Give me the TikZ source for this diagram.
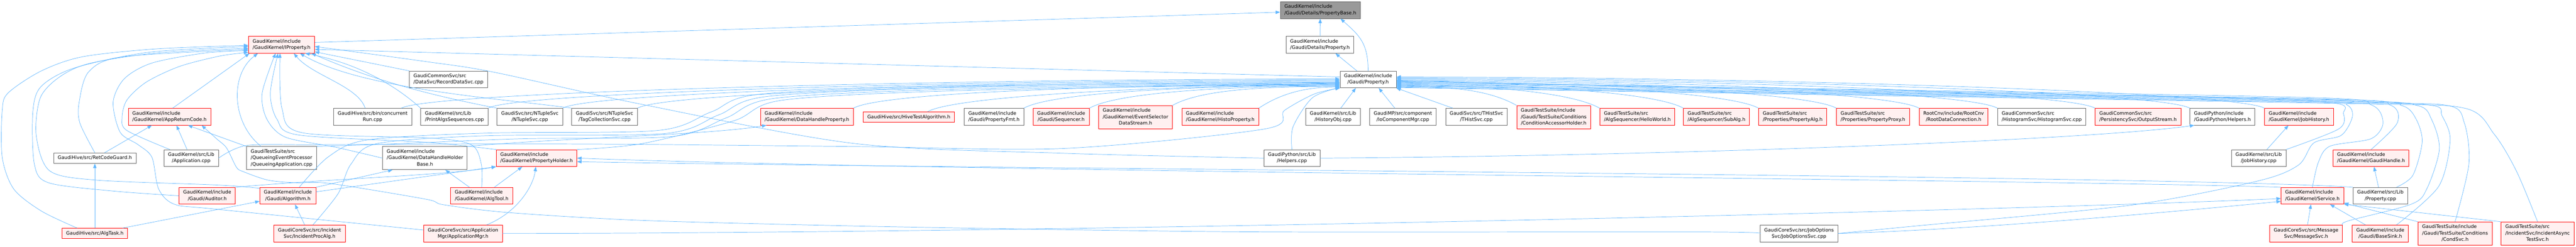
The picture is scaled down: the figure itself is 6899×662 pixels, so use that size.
\documentclass[tikz,border=0pt]{standalone}
\usepackage{fontspec}
\newfontfamily\dotfont{DejaVu Sans}
\usepackage{tikz}
\usetikzlibrary{arrows.meta}
\definecolor{edgeblue}{HTML}{63B8FF}
\definecolor{nodered}{HTML}{FF0000}
\definecolor{nodepink}{HTML}{FFF0F0}
\definecolor{nodegrey}{HTML}{666666}
\definecolor{curgrey}{HTML}{999999}
\tikzset{
	>={Triangle[length=12pt,width=9pt]},
	file/.style={rectangle, draw, line width=1pt, inner xsep=11pt, inner ysep=5.5pt,
		font=\dotfont\fontsize{12.8}{17}\selectfont},
	redfile/.style={file, draw=nodered, fill=nodepink},
	greyfile/.style={file, draw=nodegrey, fill=white},
	curfile/.style={file, draw=nodegrey, fill=curgrey},
	dep/.style={->, draw=edgeblue, line width=1pt},
}
\newcommand{\oneline}[1]{\begin{tabular}{@{}l@{}}#1\end{tabular}}
\newcommand{\twoline}[2]{\begin{tabular}{@{}l@{}}#1\\\multicolumn{1}{@{}c@{}}{#2}\end{tabular}}
\newcommand{\threeline}[3]{\begin{tabular}{@{}l@{}}#1\\#2\\\multicolumn{1}{@{}c@{}}{#3}\end{tabular}}

\begin{document}
\begin{tikzpicture}[x=1pt,y=-1pt]
	\fill[white] (0,0) rectangle (6899,662);

	\node[curfile] (pb) at (3536,27) {\twoline{GaudiKernel/include}{/Gaudi/Details/PropertyBase.h}};
	\node[redfile] (ip) at (754,120) {\twoline{GaudiKernel/include}{/GaudiKernel/IProperty.h}};
	\node[greyfile] (dprop) at (3535,120) {\twoline{GaudiKernel/include}{/Gaudi/Details/Property.h}};
	\node[greyfile] (recdata) at (1201,213) {\twoline{GaudiCommonSvc/src}{/DataSvc/RecordDataSvc.cpp}};
	\node[greyfile] (gprop) at (3664,213) {\twoline{GaudiKernel/include}{/Gaudi/Property.h}};

	\node[redfile] (apprc) at (454,313) {\twoline{GaudiKernel/include}{/GaudiKernel/AppReturnCode.h}};
	\node[greyfile] (concrun) at (998,313) {\twoline{GaudiHive/src/bin/concurrent}{Run.cpp}};
	\node[greyfile] (printalgs) at (1217,313) {\twoline{GaudiKernel/src/Lib}{/PrintAlgsSequences.cpp}};
	\node[greyfile] (ntuple) at (1419,313) {\twoline{GaudiSvc/src/NTupleSvc}{/NTupleSvc.cpp}};
	\node[greyfile] (tagcoll) at (1619,313) {\twoline{GaudiSvc/src/NTupleSvc}{/TagCollectionSvc.cpp}};
	\node[redfile] (dhprop) at (2161,313) {\twoline{GaudiKernel/include}{/GaudiKernel/DataHandleProperty.h}};
	\node[redfile] (hivetest) at (2434,314) {\oneline{GaudiHive/src/HiveTestAlgorithm.h}};
	\node[greyfile] (propfmt) at (2662,313) {\twoline{GaudiKernel/include}{/Gaudi/PropertyFmt.h}};
	\node[redfile] (sequencer) at (2842,313) {\twoline{GaudiKernel/include}{/Gaudi/Sequencer.h}};
	\node[redfile] (evtsel) at (3041,314) {\threeline{GaudiKernel/include}{/GaudiKernel/EventSelector}{DataStream.h}};
	\node[redfile] (histoprop) at (3268,313) {\twoline{GaudiKernel/include}{/GaudiKernel/HistoProperty.h}};
	\node[greyfile] (histobj) at (3570,313) {\twoline{GaudiKernel/src/Lib}{/HistoryObj.cpp}};
	\node[greyfile] (iocomp) at (3757,313) {\twoline{GaudiMP/src/component}{/IoComponentMgr.cpp}};
	\node[greyfile] (thist) at (3954,313) {\twoline{GaudiSvc/src/THistSvc}{/THistSvc.cpp}};
	\node[redfile] (condacc) at (4161,314) {\threeline{GaudiTestSuite/include}{/Gaudi/TestSuite/Conditions}{/ConditionAccessorHolder.h}};
	\node[redfile] (hello) at (4385,313) {\twoline{GaudiTestSuite/src}{/AlgSequencer/HelloWorld.h}};
	\node[redfile] (subalg) at (4597,313) {\twoline{GaudiTestSuite/src}{/AlgSequencer/SubAlg.h}};
	\node[redfile] (propalg) at (4801,313) {\twoline{GaudiTestSuite/src}{/Properties/PropertyAlg.h}};
	\node[redfile] (propproxy) at (5016,313) {\twoline{GaudiTestSuite/src}{/Properties/PropertyProxy.h}};
	\node[redfile] (rootdata) at (5232,313) {\twoline{RootCnv/include/RootCnv}{/RootDataConnection.h}};
	\node[greyfile] (histsvc) at (5468,313) {\twoline{GaudiCommonSvc/src}{/HistogramSvc/HistogramSvc.cpp}};
	\node[redfile] (outstream) at (5726,313) {\twoline{GaudiCommonSvc/src}{/PersistencySvc/OutputStream.h}};
	\node[greyfile] (pyhelp) at (5952,313) {\twoline{GaudiPython/include}{/GaudiPython/Helpers.h}};
	\node[redfile] (jobhist) at (6157,313) {\twoline{GaudiKernel/include}{/GaudiKernel/JobHistory.h}};

	\node[greyfile] (retcode) at (254,424) {\oneline{GaudiHive/src/RetCodeGuard.h}};
	\node[greyfile] (appcpp) at (512,424) {\twoline{GaudiKernel/src/Lib}{/Application.cpp}};
	\node[greyfile] (queueing) at (754,424) {\threeline{GaudiTestSuite/src}{/QueueingEventProcessor}{/QueueingApplication.cpp}};
	\node[greyfile] (dhhb) at (1138,424) {\threeline{GaudiKernel/include}{/GaudiKernel/DataHandleHolder}{Base.h}};
	\node[redfile] (propholder) at (1437,424) {\twoline{GaudiKernel/include}{/GaudiKernel/PropertyHolder.h}};
	\node[greyfile] (pyhelpcpp) at (3460,424) {\twoline{GaudiPython/src/Lib}{/Helpers.cpp}};
	\node[greyfile] (jobhistcpp) at (6049,424) {\twoline{GaudiKernel/src/Lib}{/JobHistory.cpp}};
	\node[redfile] (gaudihandle) at (6350,424) {\twoline{GaudiKernel/include}{/GaudiKernel/GaudiHandle.h}};

	\node[redfile] (auditor) at (555,525) {\twoline{GaudiKernel/include}{/Gaudi/Auditor.h}};
	\node[redfile] (algorithm) at (771,525) {\twoline{GaudiKernel/include}{/Gaudi/Algorithm.h}};
	\node[redfile] (algtool) at (1290,525) {\twoline{GaudiKernel/include}{/GaudiKernel/AlgTool.h}};
	\node[redfile] (service) at (6193,525) {\twoline{GaudiKernel/include}{/GaudiKernel/Service.h}};
	\node[greyfile] (propcpp) at (6375,525) {\twoline{GaudiKernel/src/Lib}{/Property.cpp}};

	\node[redfile] (algtask) at (254,626) {\oneline{GaudiHive/src/AlgTask.h}};
	\node[redfile] (incproc) at (829,626) {\twoline{GaudiCoreSvc/src/Incident}{Svc/IncidentProcAlg.h}};
	\node[redfile] (appmgr) at (1240,626) {\twoline{GaudiCoreSvc/src/Application}{Mgr/ApplicationMgr.h}};
	\node[greyfile] (joboptsvc) at (4818,626) {\twoline{GaudiCoreSvc/src/JobOptions}{Svc/JobOptionsSvc.cpp}};
	\node[redfile] (msgsvc) at (6176,626) {\twoline{GaudiCoreSvc/src/Message}{Svc/MessageSvc.h}};
	\node[redfile] (basesink) at (6375,626) {\twoline{GaudiKernel/include}{/Gaudi/BaseSink.h}};
	\node[redfile] (condsvc) at (6575,626) {\threeline{GaudiTestSuite/include}{/Gaudi/TestSuite/Conditions}{/CondSvc.h}};
	\node[redfile] (incasync) at (6796,626) {\threeline{GaudiTestSuite/src}{/IncidentSvc/IncidentAsync}{TestSvc.h}};

	\draw[dep] (ip.4) -- (pb.183);
	\draw[dep] (dprop) -- (pb);
	\draw[dep] (gprop.north) .. controls +(0,-75) and +(50,45) .. (pb.-23);
	\draw[dep] ([xshift=-30pt]gprop.north) -- (dprop.-29);

	\draw[dep] (gprop.175) -- (ip.-8);
	\draw[dep] (recdata.north west) -- (ip.-12);
	\draw[dep] (printalgs.north west) .. controls (1060,230) and (960,170) .. (ip.-20);
	\draw[dep] (ntuple.north west) .. controls (1150,255) and (1000,215) .. (ip.-16);
	\draw[dep] (tagcoll.north west) .. controls (1350,265) and (970,240) .. (ip.-25);
	\draw[dep] ([xshift=-20pt]concrun.north) .. controls +(-20,-60) and +(50,60) .. (ip.-35);
	\draw[dep] (apprc.70) -- (ip.-165);
	\draw[dep] (queueing.150) .. controls (620,330) and (615,200) .. (ip.-160);
	\draw[dep] plot[smooth] coordinates {(dhhb.west) (900,395) (765,368) (715,320) (702,250) (ip.-125)};
	\draw[dep] plot[smooth] coordinates {(propholder.north west) (1150,382) (800,362) (742,320) (724,250) (ip.-112)};
	\draw[dep] plot[smooth] coordinates {(algtool.north) (1289,440) (1262,388) (1150,370) (810,356) (755,290) (ip.-100)};
	\draw[dep] plot[smooth] coordinates {(algtask.163) (111,566) (37,507) (6,422) (6,296) (22,249) (111,190) (222,152) (420,131) (ip.181)};
	\draw[dep] plot[smooth] coordinates {(auditor.west) (300,512) (130,490) (92,440) (88,300) (110,232) (200,182) (400,140) (ip.183)};
	\draw[dep] plot[smooth] coordinates {(algorithm.165) (580,496) (259,483) (133,458) (97,363) (108,262) (160,206) (240,170) (420,142) (ip.186)};
	\draw[dep] plot[smooth] coordinates {(retcode.north) (214,330) (212,274) (238,192) (330,152) (ip.188)};
	\draw[dep] plot[smooth] coordinates {(appmgr.175) (580,561) (468,548) (425,507) (407,422) (370,388) (322,355) (303,274) (333,211) (407,169) (550,142) (ip.190)};
	\draw[dep] plot[smooth] coordinates {(appcpp.158) (340,350) (327,315) (340,268) (392,220) (481,178) (590,150) (ip.193)};
	\draw[dep] plot[smooth] coordinates {(pyhelpcpp.west) (2850,411) (2290,385) (1720,280) (1320,193) (1140,165) (ip.-3)};

	\draw[dep] ([xshift=-28pt]concrun.north east) .. controls +(80,-45) and +(-1000,0) .. (gprop.179);
	\draw[dep] (printalgs.north east) .. controls +(80,-45) and +(-900,0) .. (gprop.181);
	\draw[dep] (ntuple.north east) .. controls +(80,-45) and +(-830,0) .. (gprop.183);
	\draw[dep] (tagcoll.north east) .. controls +(80,-45) and +(-750,0) .. (gprop.185);
	\draw[dep] (dhprop.north east) .. controls +(80,-45) and +(-520,0) .. (gprop.190);
	\draw[dep] ([xshift=50pt]hivetest.north) .. controls +(80,-45) and +(-410,0) .. (gprop.191);
	\draw[dep] (propfmt.north east) .. controls +(80,-45) and +(-340,0) .. (gprop.192);
	\draw[dep] (sequencer.north east) .. controls +(80,-45) and +(-270,0) .. (gprop.193);
	\draw[dep] (evtsel.north east) .. controls +(80,-45) and +(-180,0) .. (gprop.194);
	\draw[dep] (histoprop.north east) .. controls +(60,-40) and +(-90,0) .. (gprop.195);
	\draw[dep] (histobj.48) -- (gprop.-145);
	\draw[dep] (iocomp.133) -- (gprop.-39);
	\draw[dep] (thist.160) -- (gprop.-17);
	\draw[dep] (condacc.north west) .. controls +(-80,-45) and +(130,0) .. (gprop.-14);
	\draw[dep] (hello.north west) .. controls +(-80,-45) and +(220,0) .. (gprop.-11);
	\draw[dep] (subalg.north west) .. controls +(-80,-45) and +(310,0) .. (gprop.-9);
	\draw[dep] (propalg.north west) .. controls +(-80,-45) and +(390,0) .. (gprop.-7);
	\draw[dep] (propproxy.north west) .. controls +(-80,-45) and +(470,0) .. (gprop.-5);
	\draw[dep] (rootdata.north west) .. controls +(-80,-45) and +(560,0) .. (gprop.-3);
	\draw[dep] (histsvc.north west) .. controls +(-80,-45) and +(640,0) .. (gprop.-1);
	\draw[dep] (outstream.north west) .. controls +(-80,-45) and +(750,0) .. (gprop.1);
	\draw[dep] (pyhelp.north west) .. controls +(-80,-45) and +(850,0) .. (gprop.3);
	\draw[dep] (jobhist.north west) .. controls +(-80,-45) and +(930,0) .. (gprop.5);

	\draw[dep] plot[smooth] coordinates {(algorithm.37) (880,420) (985,375) (1300,357) (1760,350) (1905,300) (2040,252) (2600,230) (gprop.186)};
	\draw[dep] plot[smooth] coordinates {([xshift=9pt]incproc.north) (905,520) (940,440) (1010,385) (1300,364) (1780,358) (1925,308) (2060,258) (2600,234) (gprop.187)};
	\draw[dep] plot[smooth] coordinates {(queueing.north east) (1050,386) (1400,372) (1800,366) (1945,316) (2080,263) (2600,238) (gprop.188)};
	\draw[dep] plot[smooth] coordinates {(propholder.north east) (1720,385) (1965,324) (2100,268) (2600,242) (gprop.189)};
	\draw[dep] plot[smooth] coordinates {(appcpp.east) (661,390) (848,388) (1300,386) (1700,387) (2300,393) (2850,398) (3386,346) (3440,296) (3520,252) (gprop.197)};
	\draw[dep] plot[smooth] coordinates {(pyhelpcpp.north) (3463,340) (3515,262) (gprop.196)};

	\draw[dep] plot[smooth] coordinates {(joboptsvc.east) (5130,606) (5700,551) (6044,486) (6155,443) (6197,383) (6270,363) (6300,313) (6285,281) (6200,266) (5000,246) (gprop.-2)};
	\draw[dep] plot[smooth] coordinates {(jobhistcpp.north east) (6263,346) (6276,305) (6240,275) (5800,258) (4500,232) (gprop.-4)};
	\draw[dep] plot[smooth] coordinates {(service.north) (6209,435) (6240,392) (6350,372) (6382,330) (6352,282) (6200,262) (5000,240) (gprop.-6)};
	\draw[dep] plot[smooth] coordinates {(gaudihandle.north) (6420,330) (6402,282) (6250,266) (5000,244) (gprop.-8)};
	\draw[dep] plot[smooth] coordinates {(propcpp.28) (6462,470) (6487,380) (6470,318) (6432,283) (6300,270) (5000,248) (gprop.-10)};
	\draw[dep] plot[smooth] coordinates {(msgsvc.north east) (6290,592) (6459,547) (6500,505) (6533,400) (6512,320) (6474,283) (6300,272) (5000,250) (gprop.-12)};
	\draw[dep] plot[smooth] coordinates {(basesink.28) (6531,500) (6562,376) (6540,310) (6515,283) (6300,274) (5000,252) (gprop.-13)};
	\draw[dep] plot[smooth] coordinates {(condsvc.north) (6612,440) (6600,330) (6555,283) (6300,276) (5000,254) (gprop.-15)};
	\draw[dep] plot[smooth] coordinates {(incasync.north) (6740,460) (6680,360) (6600,290) (6300,278) (5000,256) (gprop.-16)};

	\draw[dep] (retcode.29) -- (apprc.-154);
	\draw[dep] (algtask) -- (retcode);
	\draw[dep] (algtask.11) -- (algorithm.191);
	\draw[dep] ([xshift=-11pt]appcpp.north) -- (apprc.-51);
	\draw[dep] (queueing.north west) -- (apprc.-25);
	\draw[dep] plot[smooth] coordinates {(joboptsvc.west) (4560,622) (3430,622) (2860,616) (2290,606) (1720,591) (1362,570) (1188,549) (1140,534) (884,492) (792,490) (718,483) (651,460) (633,448) (607,397) (580,372) (apprc.-15)};
	\draw[dep] (algorithm.north east) -- (dhhb.-160);
	\draw[dep] (algorithm.8) -- (propholder.south west);
	\draw[dep] (auditor.north east) .. controls (900,478) and (1200,470) .. (propholder.south west);
	\draw[dep] ([xshift=-13pt]incproc.north) -- ([xshift=19pt]algorithm.south);
	\draw[dep] (algtool.145) -- (dhhb.-30);
	\draw[dep] (algtool.34) -- (propholder.-149);
	\draw[dep] (appmgr.20) .. controls (1385,570) and (1428,500) .. (propholder.-95);
	\draw[dep] (dhhb.north east) .. controls (1500,370) and (1900,362) .. (dhprop.-168);
	\draw[dep] (propcpp.north west) .. controls (5800,470) and (2500,452) .. (propholder.-5);
	\draw[dep] (service.north west) .. controls (5500,482) and (2500,460) .. (propholder.east);
	\draw[dep] (pyhelpcpp.east) .. controls (4500,418) and (5600,375) .. (pyhelp.-163);

	\draw[dep] (appmgr.east) .. controls (3000,625) and (5500,560) .. (service.185);
	\draw[dep] (joboptsvc.east) .. controls (5300,615) and (5800,570) .. (service.-170);
	\draw[dep] (msgsvc) -- (service);
	\draw[dep] (basesink.150) -- (service.-26);
	\draw[dep] (condsvc.north west) -- (service.-13);
	\draw[dep] (incasync.north west) -- (service.-15);
	\draw[dep] ([xshift=22pt]jobhistcpp.north) -- ([xshift=-28pt]jobhist.south);
	\draw[dep] (propcpp) -- ([xshift=8pt]gaudihandle.south);
\end{tikzpicture}
\end{document}
